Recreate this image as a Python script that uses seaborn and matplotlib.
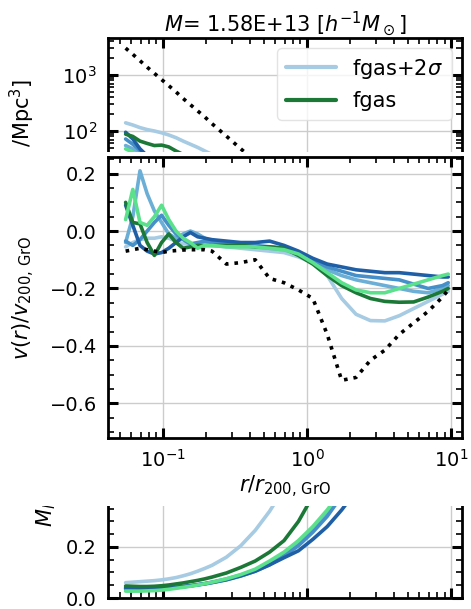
import matplotlib
matplotlib.use("Agg")
import matplotlib.pyplot as plt
from matplotlib.patches import Rectangle
from matplotlib.lines import Line2D
from matplotlib.ticker import MultipleLocator, LogLocator, FixedLocator
import numpy as np
import pandas as pd
import seaborn as sns

# radial bins (r / r200,GrO)
r = [0.0550, 0.0617, 0.0692, 0.0776, 0.0871, 0.0977, 0.1096, 0.1230, 0.1380,
     0.1549, 0.1738, 0.1950, 0.2188, 0.2754, 0.3467, 0.4365, 0.5495, 0.6918,
     0.8710, 1.0965, 1.380, 1.738, 2.188, 2.754, 3.467, 4.365, 5.495, 6.918,
     8.710, 9.550]

runs = ["fgas+2σ", "run_b", "run_c", "run_d", "fgas", "run_f"]
colors = ["#a6cbe2", "#6baed6", "#4590c8", "#1f5fa6", "#1b7837", "#5be08b"]
legend_runs = ["fgas+2σ", "fgas"]
legend_labels = [r"fgas+2$\sigma$", "fgas"]

# density profiles (only the inner, visible part)
rho_ref = [3020, 2340, 1800, 1380, 1070, 830, 645, 500, 380, 295, 229, 178,
           135, 81, 48, 29, 17]
rho_a = [140, 128, 115, 106, 100, 93, 85, 76, 66, 58, 51, 44, 38, 28]
rho_b = [55, 48, 40, 33]
rho_c = [72, 58, 45, 36]
rho_d = [95, 72, 48, 36]
rho_e = [88, 80, 66, 60, 55, 56, 52, 44, 38, 32]
rho_f = [48, 42, 36]

# radial velocity profiles v(r)/v200
v_ref = [-0.07, -0.065, -0.06, -0.065, -0.07, -0.075, -0.07, -0.068, -0.066,
         -0.065, -0.065, -0.065, -0.07, -0.115, -0.11, -0.10, -0.165, -0.18,
         -0.205, -0.235, -0.36, -0.52, -0.51, -0.45, -0.415, -0.36, -0.32,
         -0.28, -0.23, -0.205]
v_a = [-0.055, -0.04, -0.03, -0.025, -0.025, -0.02, -0.025, -0.035, -0.045,
       -0.045, -0.05, -0.05, -0.05, -0.055, -0.06, -0.065, -0.07, -0.075,
       -0.09, -0.11, -0.155, -0.235, -0.29, -0.312, -0.313, -0.295, -0.27,
       -0.245, -0.22, -0.21]
v_b = [-0.04, 0.05, 0.21, 0.13, 0.07, 0.03, -0.01, -0.025, -0.01, 0.0, -0.01,
       -0.025, -0.04, -0.05, -0.05, -0.055, -0.06, -0.065, -0.08, -0.105,
       -0.135, -0.155, -0.17, -0.18, -0.19, -0.2, -0.21, -0.215, -0.2, -0.19]
v_c = [-0.035, -0.05, -0.03, 0.0, 0.03, 0.055, 0.02, -0.01, -0.03, -0.045,
       -0.04, -0.035, -0.04, -0.045, -0.05, -0.05, -0.055, -0.06, -0.08, -0.1,
       -0.125, -0.14, -0.155, -0.16, -0.165, -0.17, -0.185, -0.2, -0.19, -0.18]
v_d = [0.09, 0.02, -0.05, -0.07, -0.08, -0.075, -0.06, -0.04, -0.02, -0.005,
       -0.02, -0.025, -0.03, -0.035, -0.04, -0.04, -0.035, -0.05, -0.07,
       -0.095, -0.115, -0.125, -0.135, -0.14, -0.145, -0.145, -0.15, -0.155,
       -0.16, -0.16]
v_e = [0.1, 0.03, 0.025, -0.04, -0.085, -0.04, -0.01, -0.04, -0.06, -0.055,
       -0.05, -0.05, -0.05, -0.05, -0.05, -0.055, -0.055, -0.06, -0.085,
       -0.115, -0.155, -0.19, -0.215, -0.235, -0.245, -0.248, -0.247, -0.23,
       -0.21, -0.2]
v_f = [0.04, 0.145, 0.03, 0.02, 0.05, 0.09, 0.04, 0.0, -0.025, -0.04, -0.06,
       -0.05, -0.05, -0.055, -0.055, -0.055, -0.06, -0.065, -0.08, -0.11,
       -0.145, -0.18, -0.205, -0.215, -0.215, -0.2, -0.185, -0.17, -0.155,
       -0.15]

# enclosed mass profiles (inner part)
m_a = [0.06, 0.062, 0.064, 0.066, 0.068, 0.071, 0.075, 0.08, 0.087, 0.095,
       0.105, 0.116, 0.128, 0.16, 0.205, 0.265, 0.34, 0.43]
m_b = [0.035, 0.034, 0.034, 0.034, 0.035, 0.036, 0.038, 0.041, 0.044, 0.048,
       0.052, 0.057, 0.062, 0.075, 0.09, 0.11, 0.138, 0.172, 0.215, 0.27,
       0.335, 0.41]
m_c = [0.037, 0.036, 0.036, 0.036, 0.036, 0.037, 0.039, 0.041, 0.044, 0.047,
       0.051, 0.055, 0.06, 0.071, 0.086, 0.105, 0.13, 0.165, 0.205, 0.258,
       0.32, 0.40]
m_d = [0.04, 0.039, 0.038, 0.038, 0.038, 0.039, 0.04, 0.042, 0.045, 0.048,
       0.052, 0.056, 0.061, 0.072, 0.087, 0.105, 0.13, 0.158, 0.185, 0.23,
       0.28, 0.345, 0.42]
m_e = [0.047, 0.046, 0.045, 0.045, 0.046, 0.048, 0.051, 0.055, 0.059, 0.064,
       0.069, 0.075, 0.082, 0.098, 0.12, 0.145, 0.18, 0.225, 0.30, 0.40]
m_f = [0.027, 0.027, 0.027, 0.028, 0.029, 0.031, 0.034, 0.038, 0.042, 0.046,
       0.051, 0.056, 0.062, 0.075, 0.092, 0.113, 0.145, 0.18, 0.225, 0.28,
       0.345, 0.42]

rho_runs = [rho_a, rho_b, rho_c, rho_d, rho_e, rho_f]
v_runs = [v_a, v_b, v_c, v_d, v_e, v_f]
m_runs = [m_a, m_b, m_c, m_d, m_e, m_f]


def long_table(profiles):
    rows = []
    for name, prof in zip(runs, profiles):
        for ri, val in zip(r, prof):
            rows.append((name, ri, val))
    return pd.DataFrame(rows, columns=["run", "r", "val"])


sns.set_style("ticks", {"axes.edgecolor": "black", "xtick.color": "black",
                        "ytick.color": "black", "text.color": "black",
                        "axes.labelcolor": "black"})
plt.rcParams["font.family"] = ["DejaVu Sans"]
plt.rcParams["mathtext.fontset"] = "dejavusans"

W, H = 471, 609
fig = plt.figure(figsize=(W / 100, H / 100), dpi=100)


def box(x0, y0, x1, y1):
    return [x0 / W, 1 - y1 / H, (x1 - x0) / W, (y1 - y0) / H]


ax_rho = fig.add_axes(box(108, 38, 462, 300))
ax_m = fig.add_axes(box(108, 400, 462, 598))
ax_v = fig.add_axes(box(108, 157, 462, 438))
ax_v.set_zorder(2)

# white strip: the panels overlap like in the stacked original
fig.add_artist(Rectangle((0, 1 - 506 / H), 1, (506 - 152) / H,
                         transform=fig.transFigure, facecolor="white",
                         edgecolor="none", zorder=1))

palette = dict(zip(runs, colors))
lw = 2.6

for ax, profiles in [(ax_rho, rho_runs), (ax_v, v_runs), (ax_m, m_runs)]:
    df = long_table(profiles)
    sns.lineplot(data=df, x="r", y="val", hue="run", palette=palette,
                 hue_order=runs, lw=lw, ax=ax, legend=False, sort=False)

sns.lineplot(x=r[:len(rho_ref)], y=rho_ref, color="black", ls=":", lw=2.6,
             ax=ax_rho, sort=False)
sns.lineplot(x=r, y=v_ref, color="black", ls=":", lw=2.6, ax=ax_v, sort=False)

for ax in [ax_rho, ax_v, ax_m]:
    ax.set_xscale("log")
    ax.set_xlim(0.0415, 11.9)
    ax.xaxis.set_minor_locator(LogLocator(subs=np.arange(2, 10)))
    ax.tick_params(which="both", direction="in", top=True, right=True,
                   labelsize=14, color="black")
    ax.tick_params(which="major", length=7, width=2.2, pad=8)
    ax.tick_params(which="minor", length=4, width=1.2)
    ax.grid(True, which="major", color="#cccccc", lw=1)
    ax.set_axisbelow(True)
    for s in ax.spines.values():
        s.set_linewidth(2)
        s.set_color("black")
    ax.set_xlabel("")
    ax.set_ylabel("")

# density panel (only its upper part shows)
ax_rho.set_yscale("log")
ax_rho.set_ylim(10 ** -1.018, 10 ** 3.661)
ax_rho.yaxis.set_major_locator(FixedLocator([1e2, 1e3]))
ax_rho.yaxis.set_minor_locator(LogLocator(subs=np.arange(2, 10), numticks=20))
ax_rho.set_title(r"$M$= 1.58E+13 [$h^{-1}M_\odot$]", fontsize=15, pad=5)
ax_rho.set_ylabel(r"/Mpc$^3$]", fontsize=15)
ax_rho.yaxis.set_label_coords(-0.2, 0.715)
ax_rho.tick_params(labelbottom=False)
handles = [Line2D([], [], color=palette[k], lw=3) for k in legend_runs]
ax_rho.legend(handles, legend_labels, loc="upper right", fontsize=15,
              handlelength=2.4, edgecolor="#dddddd")

# velocity panel
ax_v.set_ylim(-0.721, 0.258)
ax_v.yaxis.set_major_locator(MultipleLocator(0.2))
ax_v.yaxis.set_minor_locator(MultipleLocator(0.05))
ax_v.set_xlabel(r"$r/r_{200,\,\rm GrO}$", fontsize=15, labelpad=2)
ax_v.set_ylabel(r"$v(r)/v_{200,\,\rm GrO}$", fontsize=15)
ax_v.yaxis.set_label_coords(-0.2, 0.5)

# mass panel (only its lower part shows)
ax_m.set_ylim(0, 0.776)
ax_m.yaxis.set_major_locator(FixedLocator([0.0, 0.2]))
ax_m.yaxis.set_minor_locator(FixedLocator([0.05, 0.1, 0.15, 0.25, 0.3, 0.35]))
ax_m.tick_params(labelbottom=False)
ax_m.set_ylabel(r"$M_l$", fontsize=15)
ax_m.yaxis.set_label_coords(-0.14, 0.42)

fig.savefig("out.png", dpi=100)
